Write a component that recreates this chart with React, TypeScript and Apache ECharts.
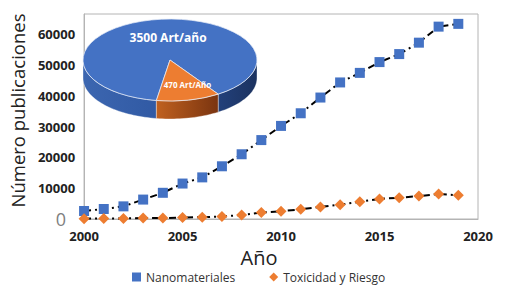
import React, { useEffect, useRef } from "react";
import * as echarts from "echarts";

const years = [2000, 2001, 2002, 2003, 2004, 2005, 2006, 2007, 2008, 2009, 2010, 2011, 2012, 2013, 2014, 2015, 2016, 2017, 2018, 2019];
const nanomateriales = [2600, 3250, 4100, 6300, 8500, 11500, 13500, 17100, 21000, 25600, 30200, 34300, 39400, 44300, 47400, 50900, 53500, 57200, 62400, 63300];
const toxicidad = [100, 200, 200, 300, 300, 500, 600, 800, 1300, 2100, 2500, 3150, 3900, 4650, 5600, 6500, 6900, 7450, 8100, 7700];

const seriesNames = ["Nanomateriales", "Toxicidad y Riesgo"];
const pieValues = [3500, 470];
const pieLabels = ["3500 Art/año", "470 Art/Año"];

const xTicks = { min: 2000, max: 2020, interval: 5 };
const yTicks = { min: 0, max: 66500, interval: 10000 };

const FONT = "Open Sans";
const BLUE = "#4472c4";
const ORANGE = "#ed7d31";
const PIE = { cx: 170, cy: 60, rx: 87, ry: 41, depth: 18, startDeg: 99 };
const pieLabelSizes = [12, 8];
const pieLabelR = [0.55, 0.64];
const pieLabelAngleShift = [10, -6];
const pieTopColors = [BLUE, ORANGE];
const pieSideStops = [
  [
    { offset: 0, color: "#3c66b0" },
    { offset: 0.45, color: "#3059a3" },
    { offset: 0.8, color: "#223f78" },
    { offset: 1, color: "#1b325f" },
  ],
  [
    { offset: 0, color: "#c0611f" },
    { offset: 1, color: "#7a3410" },
  ],
];

export default function App() {
  const ref = useRef<HTMLDivElement>(null);

  useEffect(() => {
    if (!ref.current) return;
    const chart = echarts.init(ref.current, undefined, { renderer: "svg" });
    const total = pieValues.reduce((a, b) => a + b, 0);
    const rad = (d: number) => (d * Math.PI) / 180;

    const renderPie = (params: any, api: any) => {
      const i = params.dataIndex;
      let start = PIE.startDeg;
      for (let k = 0; k < i; k++) start += (pieValues[k] / total) * 360;
      const end = start + (api.value(0) / total) * 360;
      const { cx, cy, rx, ry, depth } = PIE;
      const children: any[] = [];
      for (const base of [0, 360]) {
        const s = Math.max(start, base);
        const e = Math.min(end, base + 180);
        if (e > s) {
          const n = Math.max(2, Math.ceil((e - s) / 2));
          const pts: number[][] = [];
          for (let j = 0; j <= n; j++) {
            const t = rad(s + ((e - s) * j) / n);
            pts.push([cx + rx * Math.cos(t), cy + ry * Math.sin(t)]);
          }
          for (let j = n; j >= 0; j--) {
            const t = rad(s + ((e - s) * j) / n);
            pts.push([cx + rx * Math.cos(t), cy + ry * Math.sin(t) + depth]);
          }
          const xs = pts.map((p) => p[0]);
          const x0 = i === 0 ? cx - rx : Math.min(...xs);
          const x1 = i === 0 ? cx + rx : Math.max(...xs);
          children.push({
            type: "polygon",
            shape: { points: pts },
            style: {
              fill: new echarts.graphic.LinearGradient(x0, 0, x1, 0, pieSideStops[i], true),
              stroke: "rgba(255,255,255,0.6)",
              lineWidth: 0.6,
            },
            z2: 1,
          });
        }
      }
      children.push({
        type: "sector",
        x: cx,
        y: cy,
        scaleY: ry / rx,
        shape: { cx: 0, cy: 0, r: rx, r0: 0, startAngle: rad(start), endAngle: rad(end), clockwise: true },
        style: { fill: pieTopColors[i], stroke: "#e6ecf7", lineWidth: 1, strokeNoScale: true },
        z2: 5,
      });
      const mid = rad((start + end) / 2 + pieLabelAngleShift[i]);
      children.push({
        type: "text",
        x: cx + rx * pieLabelR[i] * Math.cos(mid),
        y: cy + ry * pieLabelR[i] * Math.sin(mid),
        style: {
          text: pieLabels[i],
          fill: "#ffffff",
          font: `bold ${pieLabelSizes[i]}px "${FONT}"`,
          align: "center",
          verticalAlign: "middle",
        },
        z2: 10,
      });
      return { type: "group", children };
    };

    const lineStyle = { color: "#000000", width: 2, type: [7, 4, 2, 4] as any };

    chart.setOption({
      animation: false,
      backgroundColor: "#ffffff",
      textStyle: { fontFamily: FONT },
      grid: { left: 81, right: 32, top: 14, bottom: 67, show: true, borderColor: "#b4b4b4", borderWidth: 1 },
      legend: {
        left: 127,
        top: 266,
        itemWidth: 9,
        itemHeight: 9,
        itemGap: 34,
        textStyle: { fontSize: 12, color: "#333333", fontFamily: FONT },
        data: [
          { name: seriesNames[0], icon: "rect" },
          { name: seriesNames[1], icon: "diamond" },
        ],
      },
      xAxis: {
        type: "value",
        min: xTicks.min,
        max: xTicks.max,
        interval: xTicks.interval,
        name: "Año",
        nameLocation: "middle",
        nameGap: 28,
        nameTextStyle: { fontSize: 20, color: "#222222", padding: [0, 44, 0, 0] },
        axisLine: { show: true, lineStyle: { color: "#b4b4b4" } },
        axisTick: { show: false },
        splitLine: { show: false },
        axisLabel: { margin: 10, fontSize: 13, fontWeight: "bold", color: "#222222", formatter: (v: number) => String(v) },
      },
      yAxis: {
        type: "value",
        min: yTicks.min,
        max: yTicks.max,
        interval: yTicks.interval,
        name: "Número publicaciones",
        nameLocation: "middle",
        nameGap: 50,
        nameTextStyle: { fontSize: 18.5, color: "#222222", padding: [0, 0, 0, 12] },
        axisLine: { show: true, lineStyle: { color: "#b4b4b4" } },
        axisTick: { show: false },
        splitLine: { show: false },
        axisLabel: {
          margin: 9,
          showMaxLabel: false,
          fontSize: 13,
          fontWeight: "bold",
          color: "#222222",
          formatter: (v: number) => (v === 0 ? "{z|0}" : String(v)),
          rich: { z: { fontSize: 18, fontWeight: "normal", color: "#7f7f7f", padding: [0, 9, 0, 0] } },
        },
      },
      series: [
        {
          name: seriesNames[0],
          type: "line",
          data: years.map((y, i) => [y, nanomateriales[i]]),
          symbol: "rect",
          symbolSize: 10,
          itemStyle: { color: BLUE },
          lineStyle,
          z: 3,
        },
        {
          name: seriesNames[1],
          type: "line",
          data: years.map((y, i) => [y, toxicidad[i]]),
          symbol: "diamond",
          symbolSize: 11,
          itemStyle: { color: ORANGE },
          lineStyle,
          z: 3,
        },
        {
          type: "custom",
          coordinateSystem: "none",
          renderItem: renderPie,
          data: pieValues.map((v) => [v]),
          z: 5,
          silent: true,
        },
      ],
    });
    return () => chart.dispose();
  }, []);

  return <div ref={ref} style={{ position: "fixed", left: 0, top: 0, width: 510, height: 286 }} />;
}
